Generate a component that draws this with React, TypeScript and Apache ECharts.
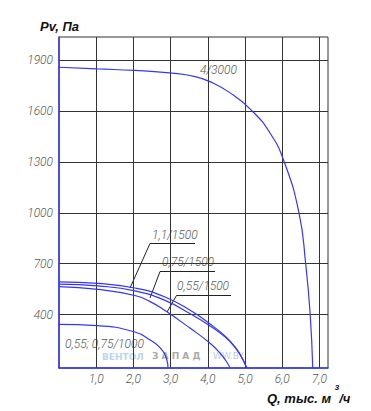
import React, { useEffect, useRef } from "react";
import * as echarts from "echarts";

// Tick values
const xTicks = [1, 2, 3, 4, 5, 6, 7];
const yTicks = [400, 700, 1000, 1300, 1600, 1900];

// Curves: [Q (thousand m3/h), Pv (Pa)]
const curve4_3000: number[][] = [
  [0, 1857], [1.02, 1847], [2.04, 1838], [3.04, 1822], [3.66, 1802], [4.06, 1772],
  [4.6, 1706], [5.19, 1600], [5.67, 1470], [6.035, 1311], [6.45, 1000],
  [6.63, 700], [6.75, 405], [6.82, 86],
];
const curve11_1500: number[][] = [
  [0, 593], [1.05, 584], [2.04, 557], [2.85, 504], [3.6, 416], [4.06, 345],
  [4.46, 275], [4.73, 210], [4.92, 145], [5.045, 86],
];
const curve075_1500: number[][] = [
  [0, 580], [1.05, 569], [2.04, 540], [2.85, 484], [3.55, 402], [4.06, 334],
  [4.46, 269], [4.73, 207], [4.92, 145], [5.045, 86],
];
const curve055_1500: number[][] = [
  [0, 565], [1.05, 549], [2.04, 513], [2.45, 477], [2.85, 424], [3.52, 321],
  [4.06, 232], [4.33, 173], [4.49, 127], [4.6, 86],
];
const curve1000: number[][] = [
  [0, 343], [1.02, 336], [2.04, 298], [2.45, 251], [2.72, 204], [2.9, 133], [2.93, 86],
];

const BLUE = "#3535ff";
const GRID = "#333";
const TXT = "#555";
const TICK_FONT = "Roboto, 'Liberation Sans', sans-serif";
const NAME_FONT = "'Liberation Sans', Arial, sans-serif";

export default function App() {
  const ref = useRef<HTMLDivElement>(null);
  useEffect(() => {
    if (!ref.current) return;
    const chart = echarts.init(ref.current, undefined, { renderer: "svg" });
    const mkSeries = (data: number[][]) => ({
      type: "line",
      data,
      showSymbol: false,
      smooth: 0.5,
      lineStyle: { color: BLUE, width: 1.2 },
      silent: true,
    });
    const lbl = (text: string, x: number, y: number, extra: any = {}) => ({
      type: "text",
      x,
      y,
      style: {
        text,
        fill: TXT,
        font: `italic 300 12px ${TICK_FONT}`,
        textVerticalAlign: "middle",
        ...extra,
      },
    });
    const leader = (pts: number[][]) => ({
      type: "polyline",
      shape: { points: pts },
      style: { stroke: "#222", lineWidth: 1, fill: "none" },
    });
    const tickLabel = {
      color: TXT,
      fontStyle: "italic",
      fontWeight: 300,
      fontFamily: TICK_FONT,
      fontSize: 12,
    };
    chart.setOption({
      animation: false,
      grid: {
        left: 59,
        top: 37,
        right: 43,
        bottom: 43,
        show: true,
        borderColor: GRID,
        borderWidth: 1,
      },
      xAxis: {
        type: "value",
        min: 0,
        max: 7.23,
        axisLine: { show: true, onZero: false, lineStyle: { color: BLUE, width: 1.5 } },
        axisTick: { show: false, customValues: xTicks },
        splitLine: { show: true, lineStyle: { color: GRID, width: 1 } },
        axisLabel: {
          ...tickLabel,
          customValues: xTicks,
          formatter: (v: number) => v.toFixed(1).replace(".", ","),
          margin: 5,
        },
      },
      yAxis: {
        type: "value",
        min: 86,
        max: 2035,
        axisLine: { show: true, lineStyle: { color: BLUE, width: 1.5 } },
        axisTick: { show: false, customValues: yTicks },
        splitLine: { show: true, lineStyle: { color: GRID, width: 1 } },
        axisLabel: {
          ...tickLabel,
          customValues: yTicks,
          formatter: (v: number) => String(v),
          margin: 6,
        },
      },
      series: [
        mkSeries(curve4_3000),
        mkSeries(curve11_1500),
        mkSeries(curve075_1500),
        mkSeries(curve055_1500),
        mkSeries(curve1000),
      ],
      graphic: [
        {
          type: "text",
          x: 40,
          y: 26,
          style: {
            text: "Pv, Па",
            fill: "#111",
            font: `italic bold 13px ${NAME_FONT}`,
            textVerticalAlign: "middle",
          },
        },
        {
          type: "text",
          x: 267,
          y: 383,
          style: {
            text: "{a|Q, тыс. м }{s|3}{a|/ч}",
            fill: "#111",
            rich: {
              a: {
                fontFamily: NAME_FONT,
                fontStyle: "italic",
                fontWeight: "bold",
                fontSize: 13,
                fill: "#111",
                verticalAlign: "bottom",
                lineHeight: 22,
              },
              s: {
                fontFamily: NAME_FONT,
                fontStyle: "italic",
                fontWeight: "bold",
                fontSize: 8,
                fill: "#111",
                verticalAlign: "top",
                lineHeight: 22,
              },
            },
          },
        },
        lbl("4/3000", 200, 70),
        lbl("1,1/1500", 152, 235),
        leader([[130, 288], [150, 243.5], [195, 243.5]]),
        lbl("0,75/1500", 162, 262),
        leader([[150, 298], [160, 271.5], [215, 271.5]]),
        lbl("0,55/1500", 177, 286),
        leader([[167, 312], [176.5, 295.5], [231, 295.5]]),
        lbl("0,55; 0,75/1000", 65, 344),
        {
          type: "text",
          x: 102,
          y: 357,
          style: {
            text: "ВЕНТОЛ",
            fill: "rgba(120,170,230,0.5)",
            font: "bold 9px 'DejaVu Sans', sans-serif",
            textVerticalAlign: "middle",
          },
        },
        {
          type: "text",
          x: 152,
          y: 356,
          style: {
            text: "З А П А Д",
            fill: "rgba(110,110,110,0.6)",
            font: "bold 9px 'DejaVu Sans', sans-serif",
            textVerticalAlign: "middle",
          },
        },
        {
          type: "text",
          x: 213,
          y: 356,
          style: {
            text: "WW.BY",
            fill: "rgba(130,150,190,0.5)",
            font: "9px 'DejaVu Sans', sans-serif",
            textVerticalAlign: "middle",
          },
        },
      ],
    });
    return () => chart.dispose();
  }, []);
  return <div ref={ref} style={{ width: 371, height: 411, position: "absolute", left: 0, top: 0 }} />;
}
